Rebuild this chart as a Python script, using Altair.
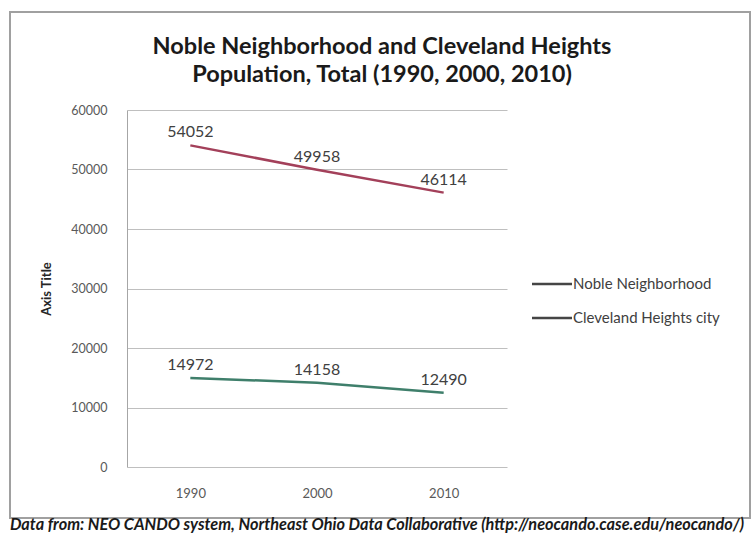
import altair as alt
import pandas as pd

years = ["1990", "2000", "2010"]
series = ["Noble Neighborhood", "Cleveland Heights city"]
noble = [14972, 14158, 12490]
cleveland = [54052, 49958, 46114]
colors = ["#3f7f6b", "#a3405a"]
title_lines = ["Noble Neighborhood and Cleveland Heights",
               "Population, Total (1990, 2000, 2010)"]
footer_text = "Data from: NEO CANDO system, Northeast Ohio Data Collaborative (http://neocando.case.edu/neocando/)"

rows = []
for y, v in zip(years, noble):
    rows.append({"year": y, "series": series[0], "pop": v})
for y, v in zip(years, cleveland):
    rows.append({"year": y, "series": series[1], "pop": v})
df = pd.DataFrame(rows)
leg_df = pd.DataFrame({"name": series})

FONT = "Lato"

x = alt.X("year:N", title=None, sort=years,
          scale=alt.Scale(type="point", padding=0.5),
          axis=alt.Axis(labelAngle=0, labelPadding=20, ticks=False, domain=False, grid=False,
                        labelFontSize=13, labelColor="#595959", labelFont=FONT))
y = alt.Y("pop:Q", title="Axis Title",
          scale=alt.Scale(domain=[0, 60000]),
          axis=alt.Axis(values=[0, 10000, 20000, 30000, 40000, 50000, 60000],
                        ticks=False, domain=True, domainColor="#a6a6a6",
                        labelPadding=20, labelFontSize=12.5, labelColor="#595959",
                        labelFont=FONT, titleFont=FONT, titleFontSize=13,
                        titleFontWeight="bold", titleColor="#262626", titlePadding=17,
                        grid=True, gridColor="#bfbfbf", format="d"))
color = alt.Color("series:N", sort=series,
                  scale=alt.Scale(domain=series, range=colors), legend=None)

lines = alt.Chart(df).mark_line(strokeWidth=2.5).encode(x=x, y=y, color=color)
labels = alt.Chart(df).mark_text(dy=-13, fontSize=16, font=FONT, color="#404040").encode(
    x=alt.X("year:N", sort=years), y="pop:Q", text="pop:Q")
main = alt.layer(lines, labels)

leg_y = alt.Y("name:N", sort=series, axis=None,
              scale=alt.Scale(type="point", padding=0, domain=series, range=[174, 208]))
leg_rule = alt.Chart(leg_df).mark_rule(strokeWidth=2.5, color="#454545").encode(
    y=leg_y, x=alt.value(405), x2=alt.value(445))
leg_text = alt.Chart(leg_df).mark_text(
    font=FONT, fontSize=15, color="#404040", align="left", baseline="middle").encode(
    y=leg_y, x=alt.value(446), text="name:N")
legend = alt.layer(leg_rule, leg_text)

border = alt.Chart(pd.DataFrame({"a": [0]})).mark_rect(
    fill=None, stroke="#a0a0a0", strokeWidth=2).encode(
    x=alt.value(-117), x2=alt.value(623), y=alt.value(-98), y2=alt.value(408))

title1 = alt.Chart(pd.DataFrame({"t": [title_lines[0]]})).mark_text(
    font=FONT, fontSize=23.5, fontWeight="bold", color="#1a1a1a",
    align="center", baseline="middle").encode(x=alt.value(255), y=alt.value(-63), text="t:N")
title2 = alt.Chart(pd.DataFrame({"t": [title_lines[1]]})).mark_text(
    font=FONT, fontSize=23.5, fontWeight="bold", color="#1a1a1a",
    align="center", baseline="middle").encode(x=alt.value(255), y=alt.value(-35), text="t:N")

footer = alt.Chart(pd.DataFrame({"t": [footer_text]})).mark_text(
    font=FONT, fontSize=16.3, fontStyle="italic", fontWeight="bold", color="#1a1a1a",
    align="center", baseline="middle").encode(
    x=alt.value(250), y=alt.value(415), text="t:N")

chart = alt.layer(border, main, legend, title1, title2, footer).resolve_scale(
    y="independent").properties(
    width=380, height=357,
    padding={"left": 127, "top": 110, "right": 247, "bottom": 68},
    autosize=alt.AutoSizeParams(type="none"),
).configure(background="white").configure_view(strokeWidth=0, stroke="transparent")

chart.save("out.html", embed_options={"renderer": "svg", "actions": False})
